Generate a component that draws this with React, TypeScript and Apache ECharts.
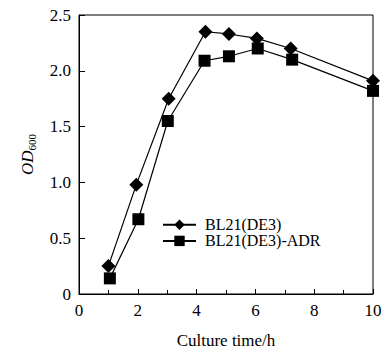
import React, { useEffect, useRef } from "react";
import * as echarts from "echarts";

const seriesNames = ["BL21(DE3)", "BL21(DE3)-ADR"];
const wildX = [1, 1.95, 3.05, 4.3, 5.1, 6.05, 7.2, 10];
const wildY = [0.25, 0.98, 1.75, 2.35, 2.33, 2.29, 2.2, 1.91];
const adrX = [1.05, 2.02, 3.02, 4.27, 5.1, 6.08, 7.25, 10];
const adrY = [0.14, 0.67, 1.55, 2.09, 2.13, 2.2, 2.1, 1.82];

const FONT = "'Liberation Serif', 'Times New Roman', serif";

export default function App() {
  const ref = useRef<HTMLDivElement>(null);
  useEffect(() => {
    if (!ref.current) return;
    const chart = echarts.init(ref.current, undefined, { renderer: "svg" });
    const legendBase = {
      left: 162,
      orient: "vertical" as const,
      itemWidth: 33,
      itemHeight: 13,
      padding: 0,
      textStyle: { fontFamily: FONT, fontSize: 16, color: "#000", lineHeight: 16, padding: [0, 0, 0, 4] },
      selectedMode: false,
    };
    chart.setOption({
      animation: false,
      backgroundColor: "#fff",
      grid: {
        left: 79,
        right: 15,
        top: 15,
        bottom: 52,
        show: true,
        borderColor: "#000",
        borderWidth: 1,
      },
      legend: [
        { ...legendBase, top: 216.7, data: [seriesNames[0]] },
        { ...legendBase, top: 232.9, data: [seriesNames[1]] },
      ],
      xAxis: {
        type: "value",
        min: 0,
        max: 10,
        interval: 2,
        name: "Culture time/h",
        nameLocation: "middle",
        nameGap: 38,
        nameTextStyle: { fontFamily: FONT, fontSize: 17, color: "#000" },
        axisLine: { lineStyle: { color: "#000", width: 1 } },
        axisTick: { inside: true, length: 5, lineStyle: { color: "#000" } },
        minorTick: { show: true, splitNumber: 2, length: 4, lineStyle: { color: "#000" } },
        splitLine: { show: false },
        axisLabel: { fontFamily: FONT, fontSize: 17, color: "#000", margin: 8 },
      },
      yAxis: {
        type: "value",
        min: 0,
        max: 2.5,
        interval: 0.5,
        name: "{i|OD}{s|600}",
        nameLocation: "middle",
        nameGap: 42,
        nameRotate: 90,
        nameTextStyle: {
          rich: {
            i: { fontFamily: FONT, fontSize: 17, fontStyle: "italic", color: "#000", lineHeight: 20, verticalAlign: "middle" },
            s: { fontFamily: FONT, fontSize: 11, color: "#000", lineHeight: 20, verticalAlign: "bottom", padding: [6, 0, 0, 0] },
          },
        },
        axisLine: { lineStyle: { color: "#000", width: 1 } },
        axisTick: { inside: true, length: 6, lineStyle: { color: "#000" } },
        splitLine: { show: false },
        axisLabel: {
          fontFamily: FONT,
          fontSize: 17,
          color: "#000",
          margin: 8,
          formatter: (v: number) => (v === 0 ? "0" : v.toFixed(1)),
        },
      },
      series: [
        {
          name: seriesNames[0],
          type: "line",
          data: wildX.map((x, i) => [x, wildY[i]]),
          symbol: "diamond",
          symbolSize: 14,
          itemStyle: { color: "#000" },
          lineStyle: { color: "#000", width: 1.2 },
        },
        {
          name: seriesNames[1],
          type: "line",
          data: adrX.map((x, i) => [x, adrY[i]]),
          symbol: "rect",
          symbolSize: 12,
          itemStyle: { color: "#000" },
          lineStyle: { color: "#000", width: 1.2 },
        },
      ],
    });
    return () => chart.dispose();
  }, []);
  return <div ref={ref} style={{ position: "fixed", left: 0, top: 0, width: 388, height: 354 }} />;
}
